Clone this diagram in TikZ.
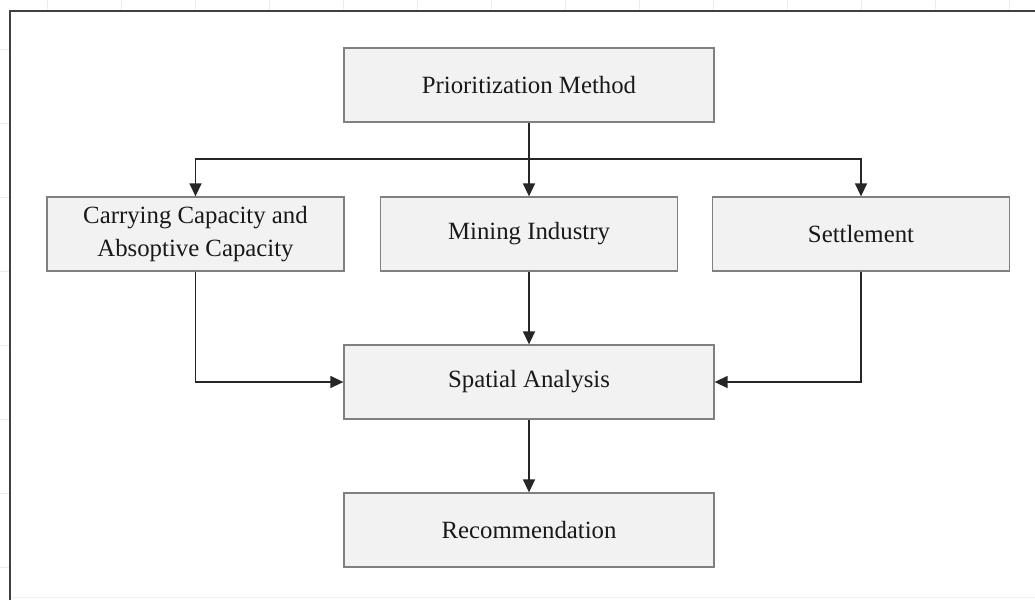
\documentclass[tikz,border=0pt]{standalone}
\usepackage{fontspec}
\setmainfont{Liberation Serif}
\usetikzlibrary{arrows.meta}
\begin{document}
\begin{tikzpicture}[x=1pt,y=-1pt,
  box/.style={draw=black!50,fill=black!5,line width=1.3pt,minimum width=370pt,minimum height=74pt,inner sep=0pt,align=center,font=\fontsize{24.8}{33}\selectfont,text=black!90},
  sbox/.style={box,minimum width=297pt},
  conn/.style={draw=black!85,line width=1.4pt,-{Triangle[length=13pt,width=12pt]}},
  gridline/.style={draw=black!8,line width=0.6pt}]
\useasboundingbox (0,0) rectangle (1035,600);
\fill[white] (0,0) rectangle (1035,600);
% faint page grid outside frame
\foreach \i in {0,...,13} {\draw[gridline] (47+74*\i,0) -- (47+74*\i,10);}
\foreach \i in {0,...,7} {\draw[gridline] (0,49+74*\i) -- (9,49+74*\i);}
\draw[black!6,line width=0.6pt] (10,597) -- (1035,597);
% frame
\draw[black!75,line width=1.5pt] (10,600) -- (10,11) -- (1035,11);
% nodes
\node[box] (pm) at (529,85) {Prioritization Method};
\node[sbox] (cc) at (195.5,234) {Carrying Capacity and\\Absoptive Capacity};
\node[sbox] (mi) at (529,234) {Mining Industry};
\node[sbox] (st) at (861,234) {Settlement};
\node[box] (sa) at (529,382) {Spatial Analysis};
\node[box] (rc) at (529,530) {Recommendation};
\coordinate (j) at (529,159);
% connectors
\draw[draw=black!85,line width=1.4pt] (pm.south) -- (j);
\draw[conn] (j) -| (cc.north);
\draw[conn] (j) -- (mi.north);
\draw[conn] (j) -| (st.north);
\draw[conn] (cc.south) |- (sa.west);
\draw[conn] (st.south) |- (sa.east);
\draw[conn] (mi.south) -- (sa.north);
\draw[conn] (sa.south) -- (rc.north);
\end{tikzpicture}
\end{document}
